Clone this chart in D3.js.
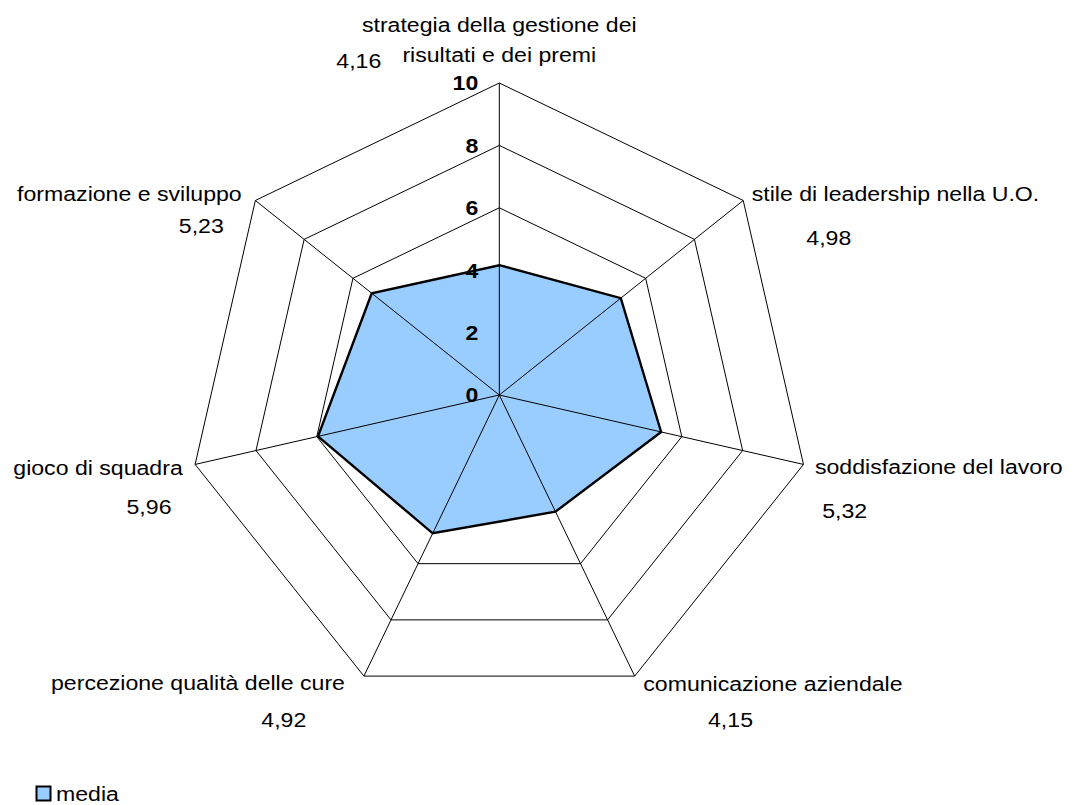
<!DOCTYPE html>
<html>
<head>
<meta charset="utf-8">
<script src="https://cdn.jsdelivr.net/npm/d3@7"></script>
<style>
  html, body { margin: 0; padding: 0; background: #fff; }
  svg { display: block; }
  text { font-family: "Liberation Sans", Arial, sans-serif; fill: #000; }
</style>
</head>
<body>
<svg id="chart" width="1073" height="805"></svg>
<script>
// ---- data ----
const categories = [
  ["strategia della gestione dei", "risultati e dei premi"],
  ["stile di leadership nella U.O."],
  ["soddisfazione del lavoro"],
  ["comunicazione aziendale"],
  ["percezione qualità delle cure"],
  ["gioco di squadra"],
  ["formazione e sviluppo"]
];
const values = [4.16, 4.98, 5.32, 4.15, 4.92, 5.96, 5.23];
const valueLabels = ["4,16", "4,98", "5,32", "4,15", "4,92", "5,96", "5,23"];
const ticks = [0, 2, 4, 6, 8, 10];
const seriesName = "media";

// ---- layout (positions/styles only) ----
const cx = 499.3, cy = 395, R = 312;
const fontSize = 21, stretch = 1.1;
// category label offsets from outer vertex: [dx, dy, anchor]
const catLayout = [
  [0, -51, "middle"],
  [8.5, 0.5, "start"],
  [11.5, 9.6, "start"],
  [8.6, 14.6, "start"],
  [-19, 14, "end"],
  [-12.4, 10.6, "end"],
  [-13.7, 0.5, "end"]
];
// value label centres (x, baseline y)
const valLayout = [
  [358.8, 68.3], [828.8, 245], [844.7, 518.3], [730.5, 727.3],
  [283.8, 727.3], [149, 514], [201.3, 233.3]
];

const svg = d3.select("#chart");
const n = categories.length;
const r = d3.scaleLinear().domain([0, 10]).range([0, R]);
const angle = d3.scaleLinear().domain([0, n]).range([0, 2 * Math.PI]);
const pt = (i, v) => [cx + r(v) * Math.sin(angle(i)), cy - r(v) * Math.cos(angle(i))];

const g = svg.append("g");

// rings
ticks.filter(t => t > 0).forEach(t => {
  g.append("polygon")
    .attr("points", d3.range(n).map(i => pt(i, t).join(",")).join(" "))
    .attr("fill", "none").attr("stroke", "#000").attr("stroke-width", 1);
});

// series fill
g.append("polygon")
  .attr("points", values.map((v, i) => pt(i, v).join(",")).join(" "))
  .attr("fill", "#99CCFF").attr("stroke", "none");

// spokes
d3.range(n).forEach(i => {
  const [x, y] = pt(i, 10);
  g.append("line").attr("x1", cx).attr("y1", cy).attr("x2", x).attr("y2", y)
    .attr("stroke", "#000").attr("stroke-width", 1);
});

// series outline
g.append("polygon")
  .attr("points", values.map((v, i) => pt(i, v).join(",")).join(" "))
  .attr("fill", "none").attr("stroke", "#000").attr("stroke-width", 2.4)
  .attr("stroke-linejoin", "miter");

function stext(x, y, str, anchor, bold) {
  const t = svg.append("g").attr("transform", `translate(${x},${y}) scale(${stretch},1)`)
    .append("text").attr("x", 0).attr("y", 0)
    .attr("text-anchor", anchor).attr("font-size", fontSize)
    .text(str);
  if (bold) t.attr("font-weight", "bold");
  return t;
}

// tick labels
ticks.forEach(t => {
  stext(cx - 21, cy - r(t) + 7.4, String(t), "end", true);
});

// category labels
categories.forEach((lines, i) => {
  const [x, y] = pt(i, 10);
  const [dx, dy, anchor] = catLayout[i];
  lines.forEach((line, k) => {
    stext(x + dx, y + dy + k * 30.4, line, anchor, false);
  });
});

// value labels
valueLabels.forEach((s, i) => {
  stext(valLayout[i][0], valLayout[i][1], s, "middle", false);
});

// legend
svg.append("rect").attr("x", 36.5).attr("y", 786.5).attr("width", 14).attr("height", 14)
  .attr("fill", "#99CCFF").attr("stroke", "#000").attr("stroke-width", 2);
stext(56, 800.5, seriesName, "start", false);
</script>
</body>
</html>
